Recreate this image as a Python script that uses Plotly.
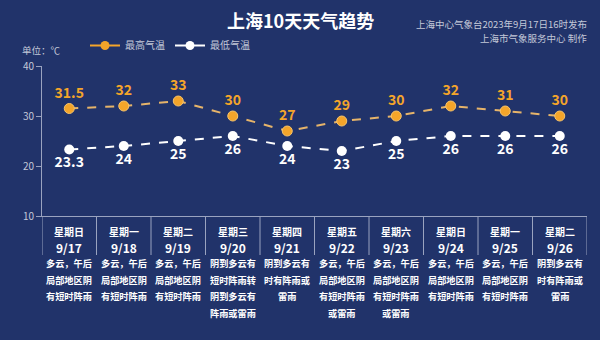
import plotly.graph_objects as go

days = ["星期日", "星期一", "星期二", "星期三", "星期四", "星期五", "星期六", "星期日", "星期一", "星期二"]
dates = ["9/17", "9/18", "9/19", "9/20", "9/21", "9/22", "9/23", "9/24", "9/25", "9/26"]
high = [31.5, 32, 33, 30, 27, 29, 30, 32, 31, 30]
low = [23.3, 24, 25, 26, 24, 23, 25, 26, 26, 26]
weather = [
    ["多云，午后", "局部地区阴", "有短时阵雨"],
    ["多云，午后", "局部地区阴", "有短时阵雨"],
    ["多云，午后", "局部地区阴", "有短时阵雨"],
    ["阴到多云有", "短时阵雨转", "阴到多云有", "阵雨或雷雨"],
    ["阴到多云有", "时有阵雨或", "雷雨"],
    ["多云，午后", "局部地区阴", "有短时阵雨", "或雷雨"],
    ["多云，午后", "局部地区阴", "有短时阵雨", "或雷雨"],
    ["多云，午后", "局部地区阴", "有短时阵雨"],
    ["多云，午后", "局部地区阴", "有短时阵雨"],
    ["阴到多云有", "时有阵雨或", "雷雨"],
]
y_ticks = [10, 20, 30, 40]

FONT = "Noto Sans CJK SC"
BG = "#21336a"
ORANGE = "#f4a52a"
ORANGE_LINE = "#e6b46a"
WHITE = "#ffffff"
GREY = "#c3c8d8"
AXIS = "#9aa3bf"

x = list(range(len(dates)))

fig = go.Figure()
fig.add_trace(go.Scatter(
    x=x, y=high, mode="lines+markers+text",
    line=dict(color=ORANGE_LINE, width=2, dash="dash"),
    marker=dict(color=ORANGE, size=10, line=dict(color="#f8c46a", width=1)),
    text=[f"{v:g}" for v in high], textposition="top center",
    textfont=dict(color=ORANGE, size=14, family=FONT, weight="bold"),
    showlegend=False, cliponaxis=False,
))
fig.add_trace(go.Scatter(
    x=x, y=low, mode="lines+markers+text",
    line=dict(color=WHITE, width=2, dash="dash"),
    marker=dict(color=WHITE, size=10),
    text=[f"{v:g}" for v in low], textposition="bottom center",
    textfont=dict(color=WHITE, size=14, family=FONT, weight="bold"),
    showlegend=False, cliponaxis=False,
))
# legend entries
fig.add_trace(go.Scatter(x=[None], y=[None], mode="lines+markers", name="最高气温",
                         line=dict(color=ORANGE, width=2), marker=dict(color=ORANGE, size=9)))
fig.add_trace(go.Scatter(x=[None], y=[None], mode="lines+markers", name="最低气温",
                         line=dict(color=WHITE, width=2), marker=dict(color=WHITE, size=9)))

shapes = []
for i in range(len(dates) + 1):
    shapes.append(dict(type="line", xref="x", yref="paper", x0=i - 0.5, x1=i - 0.5,
                       y0=0, y1=-39 / 150, line=dict(color=AXIS, width=1)))

ann = []
for i in x:
    ann.append(dict(x=i, y=0, xref="x", yref="paper", text=days[i], showarrow=False,
                    yanchor="middle", yshift=-15,
                    font=dict(color=WHITE, size=10, family=FONT, weight="bold")))
    ann.append(dict(x=i, y=0, xref="x", yref="paper", text=dates[i], showarrow=False,
                    yanchor="middle", yshift=-31,
                    font=dict(color=WHITE, size=12, family=FONT, weight="bold")))
    for j, line in enumerate(weather[i]):
        ann.append(dict(x=i, y=0, xref="x", yref="paper", text=line, showarrow=False,
                        yanchor="middle", yshift=-(47 + j * 16.6),
                        font=dict(color=WHITE, size=9.2, family=FONT, weight="bold")))

ann.append(dict(x=285 / 600, y=1, xref="paper", yref="paper", text="上海10天天气趋势",
                showarrow=False, xanchor="center", yanchor="middle", yshift=46,
                font=dict(color=WHITE, size=18, family=FONT, weight="bold")))
ann.append(dict(x=1, y=1, xref="paper", yref="paper", text="上海中心气象台2023年9月17日16时发布",
                showarrow=False, xanchor="right", yanchor="middle", yshift=42, xshift=2,
                font=dict(color=GREY, size=9.5, family=FONT)))
ann.append(dict(x=1, y=1, xref="paper", yref="paper", text="上海市气象服务中心 制作",
                showarrow=False, xanchor="right", yanchor="middle", yshift=28, xshift=2,
                font=dict(color=GREY, size=9.5, family=FONT)))
ann.append(dict(x=0, y=1, xref="paper", yref="paper", text="单位：℃",
                showarrow=False, xanchor="left", yanchor="middle", yshift=16, xshift=-22,
                font=dict(color=GREY, size=9.5, family=FONT)))

fig.update_layout(
    width=600, height=340,
    margin=dict(l=42, r=13, t=66, b=124),
    paper_bgcolor=BG, plot_bgcolor=BG,
    font=dict(family=FONT, color=GREY),
    xaxis=dict(range=[-0.5, len(dates) - 0.5], showticklabels=False, showgrid=False,
               zeroline=False, showline=True, linecolor=AXIS, linewidth=1, ticks=""),
    yaxis=dict(range=[10, 40], tickvals=y_ticks, showgrid=False, zeroline=False,
               showline=True, linecolor=AXIS, linewidth=1, ticks="outside",
               ticklen=5, tickcolor=AXIS, tickfont=dict(color=GREY, size=10, family=FONT)),
    legend=dict(orientation="h", x=(85 - 42) / 545, xanchor="left", y=1.04, yanchor="bottom",
                font=dict(color=GREY, size=10, family=FONT), bgcolor="rgba(0,0,0,0)",
                itemwidth=30, traceorder="normal"),
    shapes=shapes, annotations=ann,
)

fig.write_html("out.html")
